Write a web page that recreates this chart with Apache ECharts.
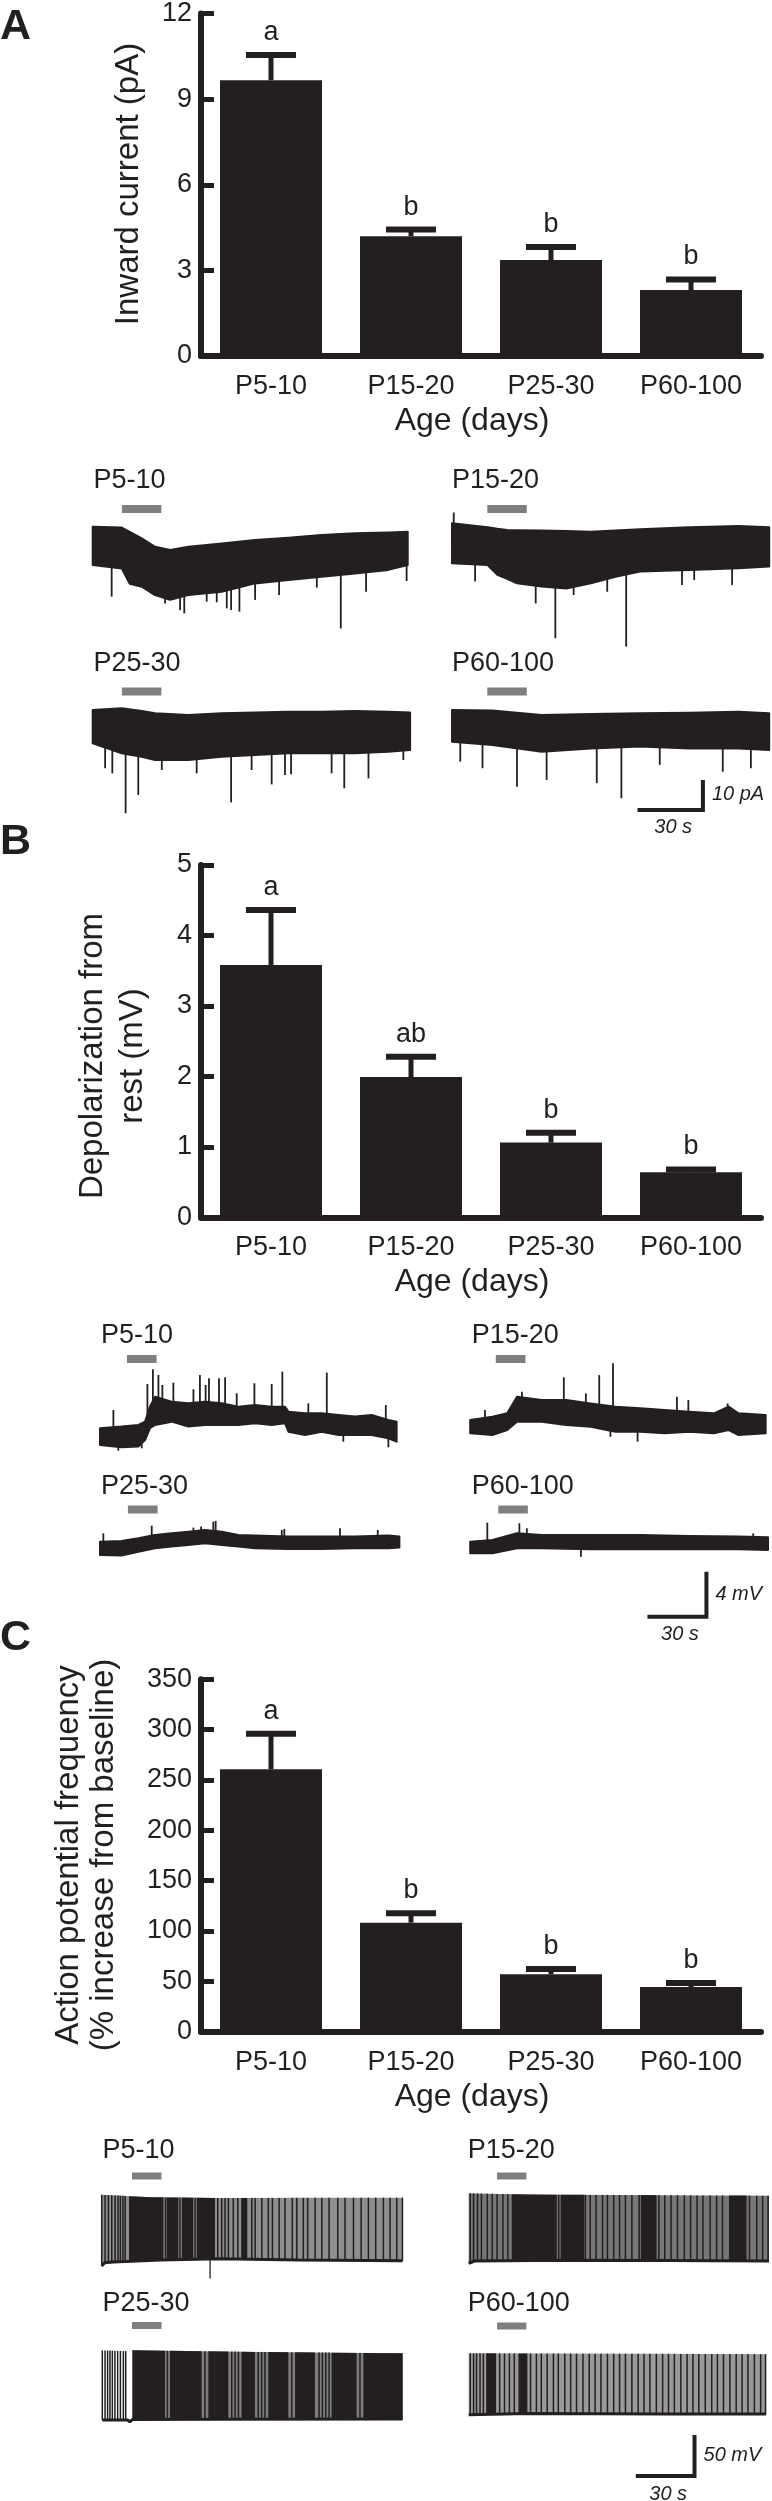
<!DOCTYPE html>
<html><head><meta charset="utf-8">
<script src="https://cdn.jsdelivr.net/npm/echarts@6/dist/echarts.min.js"></script>
<style>html,body{margin:0;padding:0;background:#fff}#c{width:772px;height:2501px}</style>
</head><body><div id="c"></div>
<script>
// ---------------- DATA ----------------
const ages = ['P5-10', 'P15-20', 'P25-30', 'P60-100'];
const ageTitle = 'Age (days)';

// Panel A: inward current (pA)
const ticksA = [0, 3, 6, 9, 12];
const currentMean = [9.66, 4.20, 3.36, 2.31];
const currentSem = [0.89, 0.23, 0.46, 0.37];
const currentLetters = ['a', 'b', 'b', 'b'];

// Panel B: depolarization from rest (mV)
const ticksB = [0, 1, 2, 3, 4, 5];
const depolMean = [3.58, 1.99, 1.06, 0.64];
const depolSem = [0.78, 0.29, 0.14, 0.04];
const depolLetters = ['a', 'ab', 'b', 'b'];

// Panel C: action potential frequency (% increase from baseline)
const ticksC = [0, 50, 100, 150, 200, 250, 300, 350];
const apMean = [260.7, 108.3, 57.0, 44.4];
const apSem = [35.1, 9.3, 5.3, 4.0];
const apLetters = ['a', 'b', 'b', 'b'];

// Example traces, panel A (time s, current pA; envelope of noisy band + spikes)
const a1T = [0, 13.3, 17, 22.5, 28.6, 35.5, 43.9, 59.2, 74.5, 89.8, 105, 120.3, 135.6, 144.5];
const a1Hi = [0, -0.3, -1.7, -3.9, -6.7, -7.8, -6.7, -5.6, -4.4, -3.7, -2.8, -2.2, -1.9, -1.7];
const a1Lo = [-12.8, -13.9, -19, -20, -22.8, -24.4, -22.8, -21.7, -18.9, -17.8, -16.7, -15.6, -14.4, -12.8];
const a1Spikes = [[8.7, -23.3], [33.2, -25.6], [40.1, -27.8], [42, -28.9], [52.3, -25], [56.9, -25.2], [61.5, -27.2], [63.5, -27.8], [67.3, -28.3], [74.5, -24.4], [85.5, -22.8], [102.8, -20.3], [113.8, -33.9], [125.4, -21.7], [144, -18.1]];
const a1Drug = [13.4, 31.5];

const a2T = [0, 16.3, 20.8, 25.3, 29.8, 41.1, 52.4, 63.7, 75, 86.3, 108.9, 131.4, 145.5];
const a2Hi = [0, -1.3, -1.8, -2.2, -2.3, -2.4, -2.6, -2.8, -2.4, -2, -1.3, -0.9, -1.3];
const a2Lo = [-13.3, -13.9, -17.2, -18.5, -20, -21.1, -21.7, -20, -17.8, -16.1, -15.6, -15, -14.4];
const a2Spikes = [[0.8, 3.6], [10.6, -19.4], [38.4, -26.7], [47.4, -38.3], [55.8, -23.9], [71.2, -22.8], [79.9, -41.1], [105.5, -20.6], [111.1, -18.9], [128.5, -20.6]];
const a2Drug = [16.2, 34.3];

const a3T = [0, 13.3, 22.5, 28.6, 43.9, 59.2, 74.5, 89.8, 105, 120.3, 135.6, 145.6];
const a3Hi = [0, 0.6, -0.3, -1.1, -1.7, -1.1, -0.8, -0.6, -0.6, -0.3, -0.6, -0.8];
const a3Lo = [-11.1, -14.4, -15.6, -16.7, -16.7, -15.6, -15, -14.4, -14.4, -14.4, -13.9, -13.3];
const a3Spikes = [[5.7, -19.4], [9, -21.1], [15.1, -34.4], [20.9, -28.3], [31.7, -20], [47.7, -21.1], [63.5, -30.8], [72.9, -20], [82.1, -24.8], [88.2, -21.7], [91, -21.4], [109.6, -21.1], [115.4, -26.1], [126.5, -22.8], [142.5, -16.7]];
const a3Drug = [13.4, 31.5];

const a4T = [0, 18.5, 41.1, 63.7, 86.3, 108.9, 131.4, 145.5];
const a4Hi = [0, -0.2, -1.7, -1.3, -1.1, -0.9, -0.6, -1.1];
const a4Lo = [-10.6, -11.7, -13.9, -12.8, -12.2, -12.8, -12.8, -13.3];
const a4Spikes = [[3.8, -17.2], [14, -19.4], [29.8, -25.6], [43.4, -23.3], [66.4, -24.4], [77.7, -29.4], [95.3, -18.3], [124.2, -20.6], [137.1, -19.4]];
const a4Drug = [16.2, 34.3];
const scaleA = [30, 10]; // 30 s, 10 pA

// Example traces, panel B (time s, membrane potential mV)
const b1T = [0, 11, 19.5, 22.9, 25.4, 28, 36.4, 44.9, 53.4, 61.9, 70.3, 78.8, 87.3, 94.1, 95.8, 104.2, 112.7, 121.2, 129.7, 138.1, 146.6, 150.8];
const b1Hi = [0.89, 1.04, 1.19, 1.48, 2.81, 3.7, 3.26, 3.11, 3.26, 3.11, 2.81, 2.96, 2.81, 2.81, 2.37, 2.22, 2.22, 2.07, 1.93, 2.07, 1.63, 1.48];
const b1Lo = [-0.59, -0.8, -0.74, -0.15, 0.89, 1.19, 1.48, 1.04, 1.19, 1.19, 1.19, 1.33, 1.19, 1.33, 0.59, 0.3, 0.59, 0.3, 0.3, 0.3, 0, -0.3];
const b1Spikes = [[6.8, 2.52], [24.1, 4.83], [26.9, 6.13], [29.7, 5.63], [31.7, 4.74], [37.3, 4.95], [47.5, 4.36], [50.8, 5.63], [53.7, 4.74], [55.4, 5.33], [60.5, 5.33], [63.6, 5.42], [69.5, 4], [78.5, 4.89], [87.3, 4.83], [92.7, 5.93], [105.9, 3.11], [115.3, 5.84], [145.3, 2.96], [9.3, -1.1], [21.2, -0.89], [123.7, -0.3], [146.6, -0.8]];
const b1Drug = [13.7, 28.8];

const b2T = [0, 11.3, 18.8, 23.8, 36.3, 48.8, 61.3, 73.9, 86.4, 98.9, 111.4, 123.9, 131.4, 136.4, 150.2];
const b2Hi = [0.59, 0.89, 1.19, 2.67, 2.37, 2.37, 2.07, 1.78, 1.63, 1.48, 1.33, 1.19, 1.78, 1.19, 1.04];
const b2Lo = [-0.59, -0.74, -0.3, 0.44, 0.44, 0.15, 0, -0.44, -0.44, -0.59, -0.44, -0.59, -0.3, -0.74, -0.59];
const b2Spikes = [[7.5, 1.48], [26.3, 3.11], [47.6, 4.39], [58.8, 2.96], [65.6, 4.59], [72.6, 5.63], [105.1, 2.67], [110.9, 2.37], [130.9, 2.07], [71.3, -0.89], [85.1, -1.33]];
const b2Drug = [13, 28.1];

const b3T = [0, 11, 19.5, 28, 36.4, 44.9, 53.4, 61.9, 70.3, 78.8, 95.8, 112.7, 129.7, 146.6, 152.2];
const b3Hi = [0.59, 0.65, 0.89, 1.19, 1.33, 1.48, 1.63, 1.48, 1.19, 1.13, 1.04, 1.04, 1.04, 1.13, 1.04];
const b3Lo = [-0.59, -0.65, -0.3, 0, 0.15, 0.3, 0.44, 0.3, 0.15, 0, -0.06, -0.06, 0, 0, 0.06];
const b3Spikes = [[1.7, 1.33], [26.3, 2.01], [47.5, 1.84], [51.4, 1.93], [57.6, 2.37], [58.8, 2.43], [92.4, 1.63], [93.7, 1.72], [122, 1.78], [141.2, 1.63]];
const b3Drug = [14.2, 29.3];

const b4T = [0, 11.3, 23.8, 36.3, 61.3, 86.4, 111.4, 136.4, 151.4];
const b4Hi = [0.59, 0.74, 1.33, 1.19, 1.19, 1.19, 1.1, 1.04, 0.98];
const b4Lo = [-0.44, -0.44, 0, 0, -0.09, -0.09, -0.09, -0.09, -0.15];
const b4Spikes = [[8.7, 2.28], [25, 2.22], [28.8, 1.78], [56.3, -0.74], [143.9, 1.33]];
const b4Drug = [14.3, 29.3];
const scaleB = [30, 4]; // 30 s, 4 mV

// Example traces, panel C (spike trains: baseline, spike peak, dense firing, single spikes)
const c1PeakT = [0, 25, 60, 153], c1PeakV = [82, 79, 78, 78.5];
const c1BaseT = [0, 1.5, 6, 30, 60, 100, 153], c1BaseV = [-5, -1, 0, 2.5, 4, 2.5, 1.5];
const c1Active = [[0, 153]];
const c1Dense = [[13.9, 31.4], [33, 39], [40.7, 46.6], [48.3, 57.6], [71, 74]];
const c1Spikes = [0, 1.7, 3.4, 5.1, 6.8, 8.3, 9.5, 10.8, 11.9, 32.4, 39.8, 47.5, 59, 61, 62.7, 64.4, 66.9, 69.2, 71.5, 72.9, 76.3, 78, 81.4, 84.7, 86.8, 90.2, 93.2, 96.9, 99.2, 102.5, 104.7, 108.5, 111.9, 115.6, 120, 123.7, 128, 131.9, 135.6, 139.3, 143.2, 146.6, 150, 152.9];
const c1Artifacts = [[55.1, -20]];
const c1Drug = [15.4, 30.4];

const c2PeakT = [0, 30, 153.5], c2PeakV = [82.6, 81, 79.6];
const c2BaseT = [0, 3, 50, 100, 153.5], c2BaseV = [-3, 0, 1, 0.5, 0];
const c2Active = [[0, 153.5]];
const c2Dense = [[22, 45], [47, 59], [88, 96], [133, 142]];
const c2Spikes = [0.8, 2.5, 4.5, 6.5, 9.5, 12, 14.5, 17.5, 20, 46, 59.6, 62.1, 65.1, 68.4, 70.9, 74.1, 77.1, 80.1, 83.4, 87.1, 97.2, 100.2, 103.4, 106.7, 110.2, 113.4, 116.7, 119.7, 123.4, 126.7, 129.7, 143.5, 147.2, 150.2, 153];
const c2Artifacts = [];
const c2Drug = [14.5, 29.5];

const c3PeakT = [0, 12, 15.3, 80, 152.7], c3PeakV = [85, 84, 85, 83, 81.3];
const c3BaseT = [0, 12.9, 14, 15.3, 60, 152.7], c3BaseV = [0, 0, -2.2, 0.5, 1, 1.2];
const c3Active = [[15.3, 152.7]];
const c3Dense = [[15.3, 31.9], [34.4, 50.5], [53.9, 64.1], [70.8, 77.6], [84.4, 94.6], [98, 108.1], [116.6, 129.3], [132.7, 152.7]];
const c3Spikes = [0, 1.4, 2.7, 3.9, 5.1, 6.4, 7.8, 9.2, 10.7, 11.9, 33.1, 52.2, 65.8, 67.5, 69.2, 79.3, 81, 82.7, 96.3, 110.2, 111.9, 113.6, 115.3, 131];
const c3Artifacts = [];
const c3Drug = [15.1, 30.1];

const c4PeakT = [0, 152], c4PeakV = [74, 73];
const c4BaseT = [0, 30, 100, 152], c4BaseV = [-1, 0.5, 0, 0];
const c4Active = [[0, 152]];
const c4Dense = [[9, 14], [26, 30]];
const c4Spikes = [0.8, 2.5, 4.0, 5.8, 7.5, 9.5, 11.5, 13.3, 15.8, 18.3, 20.8, 23.3, 25.8, 28.3, 31.6, 34.6, 37.1, 40.1, 43.3, 45.8, 49.1, 52.1, 55.1, 58.4, 61.6, 64.6, 67.6, 70.9, 74.1, 77.1, 80.1, 83.4, 86.6, 89.6, 92.6, 95.9, 99.1, 102.1, 105.1, 108.4, 111.6, 114.6, 117.6, 120.9, 124.2, 127.1, 130.2, 133.5, 136.7, 139.7, 142.7, 146, 149.2, 151.7];
const c4Artifacts = [];
const c4Drug = [14.5, 29.5];
const scaleC = [30, 50]; // 30 s, 50 mV

// ---------------- STYLE / LAYOUT ----------------
const INK = '#231f20', DRUG = '#7f7f7f';
const FONT = "'Liberation Sans', Arial, Helvetica, sans-serif";

const grids = [], xAxes = [], yAxes = [], series = [], graphics = [];

function addGrid(g, xa, ya) {
  grids.push(g); xAxes.push(Object.assign({ gridIndex: grids.length - 1 }, xa));
  yAxes.push(Object.assign({ gridIndex: grids.length - 1 }, ya));
  return grids.length - 1;
}
function txt(x, y, text, o) {
  graphics.push({ type: 'text', x: x, y: y, rotation: (o && o.rot) || 0, silent: true,
    style: { text: text, fill: INK, fontFamily: FONT, fontSize: (o && o.size) || 27,
      fontWeight: (o && o.weight) || 'normal', fontStyle: (o && o.style) || 'normal',
      align: (o && o.align) || 'left', verticalAlign: 'middle',
      textAlign: (o && o.align) || 'left', textVerticalAlign: 'middle',
      lineHeight: (o && o.lh) || undefined } });
}
function interp(ts, vs, t) {
  if (t <= ts[0]) return vs[0];
  for (let i = 1; i < ts.length; i++) {
    if (t <= ts[i]) { const f = (t - ts[i - 1]) / (ts[i] - ts[i - 1]); return vs[i - 1] + f * (vs[i] - vs[i - 1]); }
  }
  return vs[vs.length - 1];
}

// ---------------- BAR PANELS ----------------
const barPanels = [
  { top: 4, height: 352, ticks: ticksA, mean: currentMean, sem: currentSem, letters: currentLetters,
    title: 'Inward current (pA)', titleX: 129, titleY: 184, lh: 40, panel: 'A', panelY: 27 },
  { top: 865, height: 352.3, ticks: ticksB, mean: depolMean, sem: depolSem, letters: depolLetters,
    title: 'Depolarization from\nrest (mV)', titleX: 113, titleY: 1056, lh: 40, panel: 'B', panelY: 842.5 },
  { top: 1679.3, height: 352.4, ticks: ticksC, mean: apMean, sem: apSem, letters: apLetters,
    title: 'Action potential frequency\n(% increase from baseline)', titleX: 86, titleY: 1855, lh: 35, panel: 'C', panelY: 1638 }
];

barPanels.forEach(p => {
  const g = addGrid({ left: 201, width: 560, top: p.top, height: p.height },
    { type: 'category', data: ages,
      axisLine: { show: true, lineStyle: { color: INK, width: 6 } }, axisTick: { show: false },
      axisLabel: { margin: 17, color: INK, fontSize: 27, fontFamily: FONT },
      name: ageTitle, nameLocation: 'middle', nameGap: 49,
      nameTextStyle: { color: INK, fontSize: 32, fontFamily: FONT, padding: [0, 18, 0, 0] } },
    { type: 'value', min: p.ticks[0], max: p.ticks[p.ticks.length - 1], interval: p.ticks[1] - p.ticks[0],
      axisLine: { show: true, lineStyle: { color: INK, width: 6 } },
      axisTick: { show: true, inside: true, length: 13, lineStyle: { color: INK, width: 5 } },
      axisLabel: { margin: 9, color: INK, fontSize: 27, fontFamily: FONT },
      splitLine: { show: false } });
  series.push({ type: 'bar', xAxisIndex: g, yAxisIndex: g, data: p.mean, barWidth: 102,
    itemStyle: { color: INK }, silent: true, z: 3 });
  series.push({ type: 'custom', xAxisIndex: g, yAxisIndex: g, silent: true, z: 4,
    data: p.mean.map((m, i) => [i, m, m + p.sem[i]]), encode: { x: 0, y: [1, 2] },
    renderItem: (params, api) => {
      const a = api.coord([api.value(0), api.value(1)]);
      const b = api.coord([api.value(0), api.value(2)]);
      return { type: 'group', children: [
        { type: 'line', shape: { x1: a[0], y1: a[1], x2: b[0], y2: b[1] }, style: { stroke: INK, lineWidth: 5 } },
        { type: 'line', shape: { x1: b[0] - 25, y1: b[1], x2: b[0] + 25, y2: b[1] }, style: { stroke: INK, lineWidth: 6 } },
        { type: 'text', style: { text: p.letters[params.dataIndex], x: b[0], y: b[1] - 9, fill: INK,
          fontSize: 27, fontFamily: FONT, align: 'center', verticalAlign: 'bottom',
          textAlign: 'center', textVerticalAlign: 'bottom' } }
      ] };
    } });
  txt(p.titleX, p.titleY, p.title, { size: 33, align: 'center', rot: Math.PI / 2, lh: p.lh });
  txt(0, p.panelY, p.panel, { size: 43, weight: 'bold' });
});

// ---------------- TRACES ----------------
function traceGrid(lay, xr, yr, pxX, pxY) {
  return addGrid({ left: lay.left, top: lay.top, width: (xr[1] - xr[0]) * pxX, height: (yr[1] - yr[0]) * pxY },
    { type: 'value', min: xr[0], max: xr[1], show: false },
    { type: 'value', min: yr[0], max: yr[1], show: false });
}
function drugSeries(g, drug, lay, h) {
  series.push({ type: 'custom', xAxisIndex: g, yAxisIndex: g, silent: true, data: [drug], encode: { x: [0, 1] },
    renderItem: (params, api) => {
      const x0 = api.coord([api.value(0), 0])[0], x1 = api.coord([api.value(1), 0])[0];
      return { type: 'rect', shape: { x: x0, y: lay.barY - h / 2, width: x1 - x0, height: h }, style: { fill: DRUG } };
    } });
}
function bandTrace(g, tr, lay) {
  series.push({ type: 'custom', xAxisIndex: g, yAxisIndex: g, silent: true,
    data: tr.t.map((t, i) => [t, tr.hi[i], tr.lo[i]]), encode: { x: 0, y: [1, 2] },
    renderItem: (params, api) => {
      if (params.dataIndex !== 0) return { type: 'group', children: [] };
      const up = tr.t.map((t, i) => api.coord([t, tr.hi[i]]));
      const dn = tr.t.map((t, i) => api.coord([t, tr.lo[i]])).reverse();
      return { type: 'polygon', shape: { points: up.concat(dn) }, style: { fill: INK, stroke: INK, lineWidth: 2, lineJoin: 'round' } };
    } });
  series.push({ type: 'custom', xAxisIndex: g, yAxisIndex: g, silent: true,
    data: tr.spikes, encode: { x: 0, y: 1 },
    renderItem: (params, api) => {
      const t = api.value(0), v = api.value(1);
      const mid = (interp(tr.t, tr.hi, t) + interp(tr.t, tr.lo, t)) / 2;
      const a = api.coord([t, mid]), b = api.coord([t, v]);
      return { type: 'line', shape: { x1: a[0], y1: a[1], x2: b[0], y2: b[1] }, style: { stroke: INK, lineWidth: 1.8 } };
    } });
  drugSeries(g, tr.drug, lay, 8);
  txt(lay.label[0], lay.label[1], tr.label, { size: 27 });
}
function polyBetween(api, tr, a, b) {
  const ts = [a, b].concat(tr.peakT, tr.baseT).filter(t => t >= a && t <= b);
  const uniq = Array.from(new Set(ts)).sort((p, q) => p - q);
  const top = uniq.map(t => api.coord([t, interp(tr.peakT, tr.peakV, t)]));
  const bot = uniq.map(t => api.coord([t, interp(tr.baseT, tr.baseV, t)])).reverse();
  return top.concat(bot);
}
function trainTrace(g, tr, lay) {
  series.push({ type: 'custom', xAxisIndex: g, yAxisIndex: g, silent: true,
    data: tr.active, encode: { x: [0, 1] },
    renderItem: (params, api) => ({ type: 'polygon',
      shape: { points: polyBetween(api, tr, api.value(0), api.value(1)) }, style: { fill: tr.shade } }) });
  series.push({ type: 'custom', xAxisIndex: g, yAxisIndex: g, silent: true,
    data: tr.dense, encode: { x: [0, 1] },
    renderItem: (params, api) => ({ type: 'polygon',
      shape: { points: polyBetween(api, tr, api.value(0), api.value(1)) }, style: { fill: INK } }) });
  series.push({ type: 'custom', xAxisIndex: g, yAxisIndex: g, silent: true,
    data: tr.spikes.map(t => [t, 0]), encode: { x: 0 },
    renderItem: (params, api) => {
      const t = api.value(0);
      const a = api.coord([t, interp(tr.baseT, tr.baseV, t)]), b = api.coord([t, interp(tr.peakT, tr.peakV, t)]);
      return { type: 'line', shape: { x1: a[0], y1: a[1], x2: b[0], y2: b[1] }, style: { stroke: INK, lineWidth: 1.5 } };
    } });
  series.push({ type: 'custom', xAxisIndex: g, yAxisIndex: g, silent: true,
    data: tr.artifacts, encode: { x: 0, y: 1 },
    renderItem: (params, api) => {
      const t = api.value(0);
      const a = api.coord([t, interp(tr.baseT, tr.baseV, t)]), b = api.coord([t, api.value(1)]);
      return { type: 'line', shape: { x1: a[0], y1: a[1], x2: b[0], y2: b[1] }, style: { stroke: INK, lineWidth: 1.3 } };
    } });
  series.push({ type: 'line', xAxisIndex: g, yAxisIndex: g, silent: true, symbol: 'none',
    data: tr.baseT.map((t, i) => [t, tr.baseV[i]]), lineStyle: { color: INK, width: 3 } });
  drugSeries(g, tr.drug, lay, 7);
  txt(lay.label[0], lay.label[1], tr.label, { size: 27 });
}
function scaleBar(g, len, corner, unit) {
  series.push({ type: 'custom', xAxisIndex: g, yAxisIndex: g, silent: true, data: [len], encode: { x: 0, y: 1 },
    renderItem: (params, api) => {
      const lt = api.value(0), lv = api.value(1);
      const p0 = api.coord([corner[0] - lt, corner[1]]), p1 = api.coord(corner), p2 = api.coord([corner[0], corner[1] + lv]);
      const ts = { fill: INK, fontSize: 20, fontStyle: 'italic', fontFamily: FONT, verticalAlign: 'middle', textVerticalAlign: 'middle' };
      return { type: 'group', children: [
        { type: 'polyline', shape: { points: [p0, p1, p2] }, style: { stroke: INK, lineWidth: 4, fill: null } },
        { type: 'text', style: Object.assign({ text: lv + ' ' + unit, x: p1[0] + 9, y: (p1[1] + p2[1]) / 2, align: 'left', textAlign: 'left' }, ts) },
        { type: 'text', style: Object.assign({ text: lt + ' s', x: (p0[0] + p1[0]) / 2 + 3, y: p1[1] + 18, align: 'center', textAlign: 'center' }, ts) }
      ] };
    } });
}

// Panel A traces
const aTraces = [
  { t: a1T, hi: a1Hi, lo: a1Lo, spikes: a1Spikes, drug: a1Drug, label: ages[0] },
  { t: a2T, hi: a2Hi, lo: a2Lo, spikes: a2Spikes, drug: a2Drug, label: ages[1] },
  { t: a3T, hi: a3Hi, lo: a3Lo, spikes: a3Spikes, drug: a3Drug, label: ages[2] },
  { t: a4T, hi: a4Hi, lo: a4Lo, spikes: a4Spikes, drug: a4Drug, label: ages[3] }
];
const aLayout = [
  { left: 92.7, top: 502.7, label: [93.5, 481], barY: 509 },
  { left: 452, top: 499.3, label: [452, 481], barY: 509 },
  { left: 92.7, top: 686, label: [93.5, 664], barY: 691.5 },
  { left: 452, top: 686, label: [452, 664], barY: 691.5 }
];
let lastG;
aTraces.forEach((tr, i) => { lastG = traceGrid(aLayout[i], [0, 146], [-45, 8], 2.18, 3); bandTrace(lastG, tr, aLayout[i]); });
scaleBar(lastG, scaleA, [115.1, -33.3], 'pA');

// Panel B traces
const bTraces = [
  { t: b1T, hi: b1Hi, lo: b1Lo, spikes: b1Spikes, drug: b1Drug, label: ages[0] },
  { t: b2T, hi: b2Hi, lo: b2Lo, spikes: b2Spikes, drug: b2Drug, label: ages[1] },
  { t: b3T, hi: b3Hi, lo: b3Lo, spikes: b3Spikes, drug: b3Drug, label: ages[2] },
  { t: b4T, hi: b4Hi, lo: b4Lo, spikes: b4Spikes, drug: b4Drug, label: ages[3] }
];
const bLayout = [
  { left: 100, top: 1348.3, label: [101, 1335.7], barY: 1359 },
  { left: 470.2, top: 1336.7, label: [471.7, 1335.7], barY: 1359 },
  { left: 100, top: 1458.3, label: [101, 1486.7], barY: 1509.5 },
  { left: 470.2, top: 1458.3, label: [471.7, 1486.7], barY: 1509.5 }
];
bTraces.forEach((tr, i) => { lastG = traceGrid(bLayout[i], [0, 153], [-7, 8], 1.967, 11.25); bandTrace(lastG, tr, bLayout[i]); });
scaleBar(lastG, scaleB, [120.1, -6.08], 'mV');

// Panel C traces
const cTraces = [
  { peakT: c1PeakT, peakV: c1PeakV, baseT: c1BaseT, baseV: c1BaseV, active: c1Active, dense: c1Dense, spikes: c1Spikes, artifacts: c1Artifacts, drug: c1Drug, label: ages[0], shade: '#8e8e8e' },
  { peakT: c2PeakT, peakV: c2PeakV, baseT: c2BaseT, baseV: c2BaseV, active: c2Active, dense: c2Dense, spikes: c2Spikes, artifacts: c2Artifacts, drug: c2Drug, label: ages[1], shade: '#777777' },
  { peakT: c3PeakT, peakV: c3PeakV, baseT: c3BaseT, baseV: c3BaseV, active: c3Active, dense: c3Dense, spikes: c3Spikes, artifacts: c3Artifacts, drug: c3Drug, label: ages[2], shade: '#7d7d7d' },
  { peakT: c4PeakT, peakV: c4PeakV, baseT: c4BaseT, baseV: c4BaseV, active: c4Active, dense: c4Dense, spikes: c4Spikes, artifacts: c4Artifacts, drug: c4Drug, label: ages[3], shade: '#9a9a9a' }
];
const cLayout = [
  { left: 101.7, top: 2184.1, label: [102.4, 2150.8], barY: 2176 },
  { left: 468.7, top: 2183.1, label: [467.7, 2150.8], barY: 2176 },
  { left: 102.3, top: 2342.1, label: [102.4, 2303.3], barY: 2325.5 },
  { left: 468.7, top: 2336.1, label: [467.7, 2303.3], barY: 2326 }
];
cTraces.forEach((tr, i) => { lastG = traceGrid(cLayout[i], [0, 155], [-80, 95], 1.967, 0.82); trainTrace(lastG, tr, cLayout[i]); });
scaleBar(lastG, scaleC, [115.4, -75.6], 'mV');

// ---------------- RENDER ----------------
const chart = echarts.init(document.getElementById('c'), null, { renderer: 'canvas', width: 772, height: 2501 });
chart.setOption({
  animation: false,
  backgroundColor: '#ffffff',
  textStyle: { fontFamily: FONT },
  grid: grids, xAxis: xAxes, yAxis: yAxes, series: series, graphic: graphics
});
</script>
</body></html>
